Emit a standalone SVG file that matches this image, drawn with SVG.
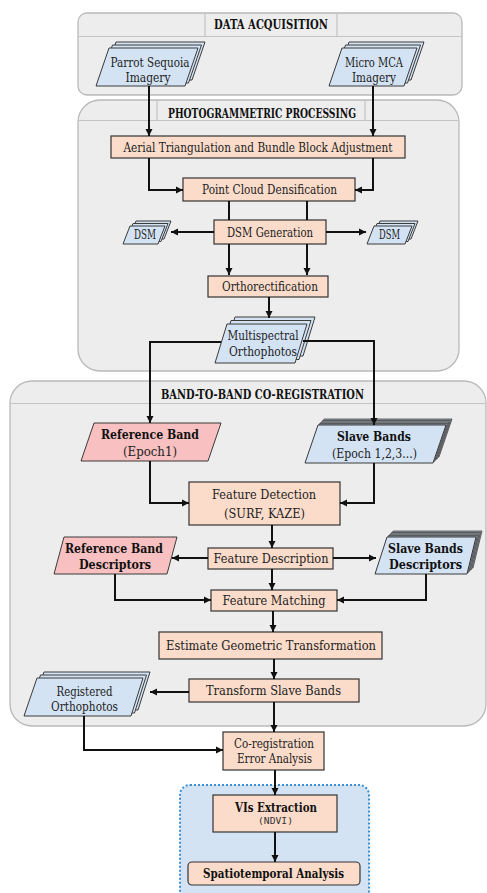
<svg xmlns="http://www.w3.org/2000/svg" width="487" height="893" viewBox="0 0 487 893">
<defs>
<marker id="ah" markerUnits="userSpaceOnUse" markerWidth="9" markerHeight="8" refX="7" refY="4" orient="auto">
<path d="M0,0.5 L7,4 L0,7.5 Z" fill="#111"/>
</marker>
<style>
.panel{fill:#ededed;stroke:#b9b9b9;stroke-width:1.3}
.hdr{fill:none;stroke:#c4c4c4;stroke-width:1.2}
.box{fill:#fbdcca;stroke:#333;stroke-width:1.2}
.blue{fill:#d4e3f4;stroke:#3a3a3a;stroke-width:1}
.gray{fill:#8e98a3;stroke:#4a4a4a;stroke-width:0.8}
.pink{fill:#f8c0c0;stroke:#3a3a3a;stroke-width:1}
.t{font-family:"DejaVu Serif","Liberation Serif",serif;font-size:12px;fill:#222;text-anchor:middle}
.b{font-weight:bold;fill:#111}
.m{font-family:"DejaVu Sans Mono","Liberation Mono",monospace;font-size:9.5px;fill:#333;text-anchor:middle}
.c{fill:none;stroke:#111;stroke-width:2}
.a{marker-end:url(#ah)}
</style>
</defs>

<g id="panel-data-acquisition">
<rect class="panel" x="78" y="13" width="384" height="82" rx="9"/>
<path class="hdr" d="M78.5,36.5 H461.5 M205,13 V36.5 M337,13 V36.5"/>
<text class="t b" x="271" y="29" font-size="11" textLength="114" lengthAdjust="spacingAndGlyphs">DATA ACQUISITION</text>
</g>

<g id="panel-photogrammetric">
<rect class="panel" x="78" y="100" width="381" height="271" rx="22"/>
<path class="hdr" d="M78.5,120.5 H458.5 M157,100 V120.5 M365,100 V120.5"/>
<text class="t b" x="262" y="118" font-size="10.5" textLength="188" lengthAdjust="spacingAndGlyphs">PHOTOGRAMMETRIC PROCESSING</text>
</g>

<g id="panel-band-to-band">
<rect class="panel" x="10" y="381" width="476" height="345" rx="22"/>
<path class="hdr" d="M10.5,403.5 H485.5"/>
<text class="t b" x="262.5" y="399" font-size="11" textLength="203" lengthAdjust="spacingAndGlyphs">BAND-TO-BAND CO-REGISTRATION</text>
</g>

<g id="panel-analysis">
<rect x="180" y="785" width="189" height="120" rx="10" fill="#d4e3f4" stroke="#3a8fd6" stroke-width="2" stroke-dasharray="2,2"/>
</g>

<g id="parrot-sequoia">
<polygon class="blue" points="116,42 205,42 192,80 103,80"/>
<polygon class="blue" points="112.5,45 201.5,45 188.5,83 99.5,83"/>
<polygon class="blue" points="109,48 198,48 185,86 96,86"/>
<text class="t" x="150" y="67" textLength="79" lengthAdjust="spacingAndGlyphs">Parrot Sequoia</text>
<text class="t" x="148" y="82" textLength="45" lengthAdjust="spacingAndGlyphs">Imagery</text>
</g>

<g id="micro-mca">
<polygon class="blue" points="349,42 424,42 411,80 336,80"/>
<polygon class="blue" points="345.5,45 420.5,45 407.5,83 332.5,83"/>
<polygon class="blue" points="342,48 417,48 404,86 329,86"/>
<text class="t" x="374" y="67" textLength="58" lengthAdjust="spacingAndGlyphs">Micro MCA</text>
<text class="t" x="374" y="82" textLength="44" lengthAdjust="spacingAndGlyphs">Imagery</text>
</g>

<g id="aerial-triangulation">
<rect class="box" x="111" y="136" width="294" height="22"/>
<text class="t" x="258" y="151.5" textLength="269" lengthAdjust="spacingAndGlyphs">Aerial Triangulation and Bundle Block Adjustment</text>
</g>

<g id="point-cloud">
<rect class="box" x="183" y="178" width="172" height="23"/>
<text class="t" x="269.5" y="194" textLength="135" lengthAdjust="spacingAndGlyphs">Point Cloud Densification</text>
</g>

<g id="dsm-generation">
<rect class="box" x="214" y="220" width="112" height="24"/>
<text class="t" x="270" y="236.5" textLength="86" lengthAdjust="spacingAndGlyphs">DSM Generation</text>
</g>

<g id="dsm-left">
<polygon class="blue" points="136,221 171,221 164,239 129,239"/>
<polygon class="blue" points="133,223.5 168,223.5 161,241.5 126,241.5"/>
<polygon class="blue" points="130,226 165,226 158,244 123,244"/>
<text class="t" x="145" y="238.5" font-size="10" textLength="22" lengthAdjust="spacingAndGlyphs">DSM</text>
</g>

<g id="dsm-right">
<polygon class="blue" points="380,221 418,221 411,239 373,239"/>
<polygon class="blue" points="377,223.5 415,223.5 408,241.5 370,241.5"/>
<polygon class="blue" points="374,226 412,226 405,244 367,244"/>
<text class="t" x="389.5" y="238.5" font-size="10" textLength="21" lengthAdjust="spacingAndGlyphs">DSM</text>
</g>

<g id="orthorectification">
<rect class="box" x="208" y="276" width="120" height="21"/>
<text class="t" x="270" y="291" textLength="96" lengthAdjust="spacingAndGlyphs">Orthorectification</text>
</g>

<g id="multispectral-orthophotos">
<polygon class="blue" points="235,317 315,317 303,356 223,356"/>
<polygon class="blue" points="231,320.5 311,320.5 299,359.5 219,359.5"/>
<polygon class="blue" points="227,324 307,324 295,363 215,363"/>
<text class="t" x="263" y="339.5" textLength="71" lengthAdjust="spacingAndGlyphs">Multispectral</text>
<text class="t" x="263" y="356" textLength="68" lengthAdjust="spacingAndGlyphs">Orthophotos</text>
</g>

<g id="reference-band">
<polygon class="pink" points="94,423 221,423 208,461 81,461"/>
<text class="t b" x="150" y="438.5" font-size="12.5" textLength="98" lengthAdjust="spacingAndGlyphs">Reference Band</text>
<text class="t" x="150" y="455.5" textLength="54" lengthAdjust="spacingAndGlyphs">(Epoch1)</text>
</g>

<g id="slave-bands">
<polygon class="gray" points="324,419 452,419 439,457 311,457"/>
<polygon class="gray" points="322.5,420.5 450.5,420.5 437.5,458.5 309.5,458.5"/>
<polygon class="gray" points="321,422 449,422 436,460 308,460"/>
<polygon class="gray" points="319.5,423.5 447.5,423.5 434.5,461.5 306.5,461.5"/>
<polygon class="blue" points="318,425 446,425 433,463 305,463"/>
<text class="t b" x="374" y="440.5" font-size="12.5" textLength="74" lengthAdjust="spacingAndGlyphs">Slave Bands</text>
<text class="t" x="374.5" y="457.5" textLength="85" lengthAdjust="spacingAndGlyphs">(Epoch 1,2,3...)</text>
</g>

<g id="feature-detection">
<rect class="box" x="189" y="482" width="151" height="43"/>
<text class="t" x="264" y="498.5" textLength="104" lengthAdjust="spacingAndGlyphs">Feature Detection</text>
<text class="t" x="264.5" y="517.5" textLength="81" lengthAdjust="spacingAndGlyphs">(SURF, KAZE)</text>
</g>

<g id="feature-description">
<rect class="box" x="208" y="548" width="125" height="21"/>
<text class="t" x="271" y="563" textLength="115" lengthAdjust="spacingAndGlyphs">Feature Description</text>
</g>

<g id="reference-band-descriptors">
<polygon class="pink" points="64,537 177,537 167,574 54,574"/>
<text class="t b" x="114" y="552.5" font-size="12.5" textLength="98" lengthAdjust="spacingAndGlyphs">Reference Band</text>
<text class="t b" x="115" y="568.5" font-size="12.5" textLength="72" lengthAdjust="spacingAndGlyphs">Descriptors</text>
</g>

<g id="slave-bands-descriptors">
<polygon class="gray" points="393,531 482,531 473,568 381,568"/>
<polygon class="gray" points="391.5,532.5 480.5,532.5 471.5,569.5 379.5,569.5"/>
<polygon class="gray" points="390,534 479,534 470,571 378,571"/>
<polygon class="gray" points="388.5,535.5 477.5,535.5 468.5,572.5 376.5,572.5"/>
<polygon class="blue" points="387,537 476,537 467,574 375,574"/>
<text class="t b" x="425.5" y="552.5" font-size="12.5" textLength="75" lengthAdjust="spacingAndGlyphs">Slave Bands</text>
<text class="t b" x="425.5" y="568.5" font-size="12.5" textLength="73" lengthAdjust="spacingAndGlyphs">Descriptors</text>
</g>

<g id="feature-matching">
<rect class="box" x="211" y="590" width="126" height="21"/>
<text class="t" x="274" y="605" textLength="103" lengthAdjust="spacingAndGlyphs">Feature Matching</text>
</g>

<g id="estimate-geometric">
<rect class="box" x="159" y="632" width="223" height="27"/>
<text class="t" x="271" y="650" textLength="210" lengthAdjust="spacingAndGlyphs">Estimate Geometric Transformation</text>
</g>

<g id="transform-slave-bands">
<rect class="box" x="189" y="679" width="170" height="23"/>
<text class="t" x="273.5" y="695" textLength="135" lengthAdjust="spacingAndGlyphs">Transform Slave Bands</text>
</g>

<g id="registered-orthophotos">
<polygon class="blue" points="44,672 150,672 138,710 31,710"/>
<polygon class="blue" points="40.5,675 146.5,675 134.5,713 27.5,713"/>
<polygon class="blue" points="37,678 143,678 131,716 24,716"/>
<text class="t" x="84.5" y="695.5" textLength="56" lengthAdjust="spacingAndGlyphs">Registered</text>
<text class="t" x="84.5" y="710.5" textLength="67" lengthAdjust="spacingAndGlyphs">Orthophotos</text>
</g>

<g id="coregistration-error">
<rect class="box" x="223" y="732" width="101" height="38"/>
<text class="t" x="274" y="747.5" textLength="80" lengthAdjust="spacingAndGlyphs">Co-registration</text>
<text class="t" x="274.5" y="762.5" textLength="75" lengthAdjust="spacingAndGlyphs">Error Analysis</text>
</g>

<g id="vis-extraction">
<rect class="box" x="213" y="795" width="124" height="37"/>
<text class="t b" x="276" y="811.5" font-size="12.5" textLength="82" lengthAdjust="spacingAndGlyphs">VIs Extraction</text>
<text class="m" x="275.5" y="823.5" textLength="35" lengthAdjust="spacingAndGlyphs">(NDVI)</text>
</g>

<g id="spatiotemporal-analysis">
<rect class="box" x="188" y="862" width="172" height="23" rx="4"/>
<text class="t b" x="273.5" y="878" font-size="12.5" textLength="141" lengthAdjust="spacingAndGlyphs">Spatiotemporal Analysis</text>
</g>

<g id="connectors">
<path class="c a" d="M149,86 V136"/>
<path class="c a" d="M373,86 V136"/>
<path class="c a" d="M149,158 V190 H183"/>
<path class="c a" d="M373,158 V190 H355"/>
<path class="c" d="M229,201 V220 M307,201 V220"/>
<path class="c a" d="M214,232 H171"/>
<path class="c a" d="M326,232 H366"/>
<path class="c a" d="M229,244 V275"/>
<path class="c a" d="M307,244 V275"/>
<path class="c a" d="M269,297 V318"/>
<path class="c a" d="M221,342 H150 V423"/>
<path class="c a" d="M303,341 H374 V425"/>
<path class="c a" d="M150,461 V503 H189" stroke-width="1.5"/>
<path class="c a" d="M374,463 V503 H340" stroke-width="1.5"/>
<path class="c a" d="M272,525 V548"/>
<path class="c a" d="M208,558 H172"/>
<path class="c a" d="M333,558 H376"/>
<path class="c a" d="M115,574 V600 H211"/>
<path class="c a" d="M426,574 V600 H337"/>
<path class="c a" d="M272,569 V590"/>
<path class="c a" d="M273,611 V632"/>
<path class="c a" d="M274,659 V679"/>
<path class="c a" d="M189,692 H150"/>
<path class="c a" d="M274,702 V732"/>
<path class="c a" d="M84,716 V750 H223"/>
<path class="c a" d="M275,770 V795"/>
<path class="c a" d="M275,832 V862"/>
</g>
</svg>
